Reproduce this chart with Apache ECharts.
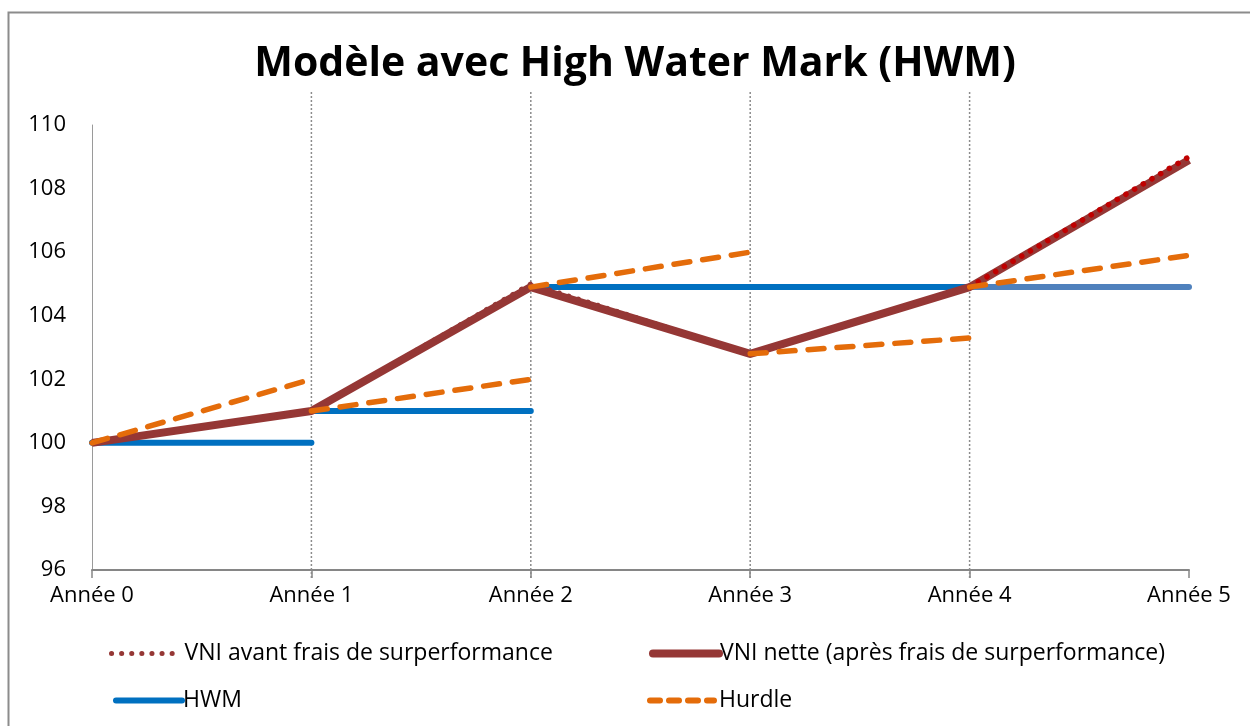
<!DOCTYPE html>
<html>
<head>
<meta charset="utf-8">
<script src="https://cdn.jsdelivr.net/npm/echarts@6/dist/echarts.min.js"></script>
<style>
  html, body { margin: 0; padding: 0; background: #fff; }
  #chart { width: 1250px; height: 726px; }
</style>
</head>
<body>
<div id="chart"></div>
<script>
var years = ["Année 0", "Année 1", "Année 2", "Année 3", "Année 4", "Année 5"];
var yTicks = [96, 98, 100, 102, 104, 106, 108, 110];

// VNI avant / après frais de surperformance
var vniAvant = [100, 101, 105.0, 102.8, 104.9, 109.0];
var vniNette = [100, 101, 104.9, 102.8, 104.9, 108.9];

// HWM : paliers (année début, année fin, niveau)
var hwmStart = [0, 1, 2, 4];
var hwmEnd = [1, 2, 4, 5];
var hwmLevel = [100, 101, 104.9, 104.9];

// Hurdle : segment de l'année i à l'année i+1
var hurdleFrom = [100, 101, 104.9, 102.8, 104.9];
var hurdleTo = [102, 102, 106, 103.3, 105.9];

// lignes verticales pointillées
var dropYears = [1, 2, 3, 4];

var FONT = "Open Sans";
var C_NETTE = "#953735";
var C_AVANT = "#953735";
var C_AVANT2 = "#c00000";
var C_HWM = "#0070c0";
var C_HWM2 = "#4f81bd";
var C_HURDLE = "#e46c0a";

function segment(i0, v0, i1, v1) {
  var arr = years.map(function () { return null; });
  arr[i0] = v0;
  arr[i1] = v1;
  return arr;
}

function flat(i0, i1, level) {
  return years.map(function (y, i) { return i >= i0 && i <= i1 ? level : null; });
}

var series = [];

series.push({
  type: "custom",
  silent: true,
  clip: false,
  z: 1,
  data: dropYears.map(function (d) { return [d]; }),
  renderItem: function (params, api) {
    var top = api.coord([api.value(0), yTicks[yTicks.length - 1]]);
    var bot = api.coord([api.value(0), yTicks[0]]);
    return {
      type: "line",
      shape: { x1: top[0], y1: top[1] - 33, x2: bot[0], y2: bot[1] + 8 },
      style: { stroke: "#8c8c8c", lineWidth: 1.5, lineDash: [2, 2] }
    };
  }
});

// HWM
for (var h = 0; h < hwmStart.length; h++) {
  series.push({
    name: "HWM",
    type: "line",
    symbol: "none",
    z: 3,
    data: flat(hwmStart[h], hwmEnd[h], hwmLevel[h]),
    lineStyle: { color: h === hwmStart.length - 1 ? C_HWM2 : C_HWM, width: 6, cap: "round" },
    itemStyle: { color: C_HWM }
  });
}

// VNI nette
series.push({
  name: "VNI nette (après frais de surperformance)",
  type: "line",
  symbol: "none",
  z: 4,
  data: vniNette,
  lineStyle: { color: C_NETTE, width: 8 },
  itemStyle: { color: C_NETTE }
});

// VNI avant frais (pointillé)
series.push({
  name: "VNI avant frais de surperformance",
  type: "line",
  symbol: "none",
  z: 5,
  data: vniAvant.map(function (v, i) { return i <= 4 ? v : null; }),
  lineStyle: { color: C_AVANT, width: 5, type: [0.1, 10], cap: "round" },
  itemStyle: { color: C_AVANT }
});
series.push({
  name: "VNI avant frais de surperformance",
  type: "line",
  symbol: "none",
  z: 5,
  data: segment(4, vniAvant[4], 5, vniAvant[5]),
  lineStyle: { color: C_AVANT2, width: 5.5, type: [0.1, 10], cap: "round" },
  itemStyle: { color: C_AVANT }
});

// Hurdle
for (var k = 0; k < hurdleFrom.length; k++) {
  series.push({
    name: "Hurdle",
    type: "line",
    symbol: "none",
    z: 6,
    data: segment(k, hurdleFrom[k], k + 1, hurdleTo[k]),
    lineStyle: { color: C_HURDLE, width: 5.5, type: [16, 13], cap: "round" },
    itemStyle: { color: C_HURDLE }
  });
}

function legendAt(name, left, top, w, gap, ls) {
  return {
    data: [name],
    left: left,
    top: top,
    itemWidth: w,
    itemHeight: 14,
    itemGap: 8,
    selectedMode: false,
    itemStyle: { opacity: 0 },
    lineStyle: ls,
    textStyle: { fontFamily: FONT, fontSize: 23, color: "#000", padding: [0, 0, 0, gap] }
  };
}

var chart = echarts.init(document.getElementById("chart"));
chart.setOption({
  animation: false,
  backgroundColor: "#fff",
  title: {
    text: "Modèle avec High Water Mark (HWM)",
    left: 630,
    textAlign: "center",
    top: 39,
    textStyle: { fontFamily: FONT, fontSize: 41, fontWeight: "bold", color: "#000" }
  },
  graphic: [{
    type: "rect",
    shape: { x: 8.5, y: 12.5, width: 1400, height: 900 },
    style: { fill: null, stroke: "#8c8c8c", lineWidth: 2 },
    silent: true
  }],
  legend: [
    legendAt("VNI avant frais de surperformance", 104, 637, 66, 2,
      { color: C_AVANT, width: 5, type: [0.1, 10], cap: "round" }),
    legendAt("VNI nette (après frais de surperformance)", 644, 637, 66, -4,
      { color: C_NETTE, width: 8, cap: "round" }),
    legendAt("HWM", 108, 684, 66, -4,
      { color: C_HWM, width: 6, cap: "round" }),
    legendAt("Hurdle", 642, 684, 64, 0,
      { color: C_HURDLE, width: 6, type: [10, 9], cap: "round" })
  ],
  grid: { left: 92, right: 61, top: 125, bottom: 156, containLabel: false },
  xAxis: {
    type: "category",
    data: years,
    boundaryGap: false,
    axisLine: { lineStyle: { color: "#868686", width: 2 } },
    axisTick: { show: true, alignWithLabel: true, length: 8, lineStyle: { color: "#868686", width: 1.5 } },
    axisLabel: { fontFamily: FONT, fontSize: 22, color: "#000", margin: 15, interval: 0 },
    splitLine: { show: false }
  },
  yAxis: {
    type: "value",
    min: yTicks[0],
    max: yTicks[yTicks.length - 1],
    interval: 2,
    axisLine: { show: true, lineStyle: { color: "#9a9a9a", width: 1 } },
    axisTick: { show: false },
    axisLabel: { fontFamily: FONT, fontSize: 22, color: "#000", margin: 26 },
    splitLine: { show: false }
  },
  series: series
});
</script>
</body>
</html>
